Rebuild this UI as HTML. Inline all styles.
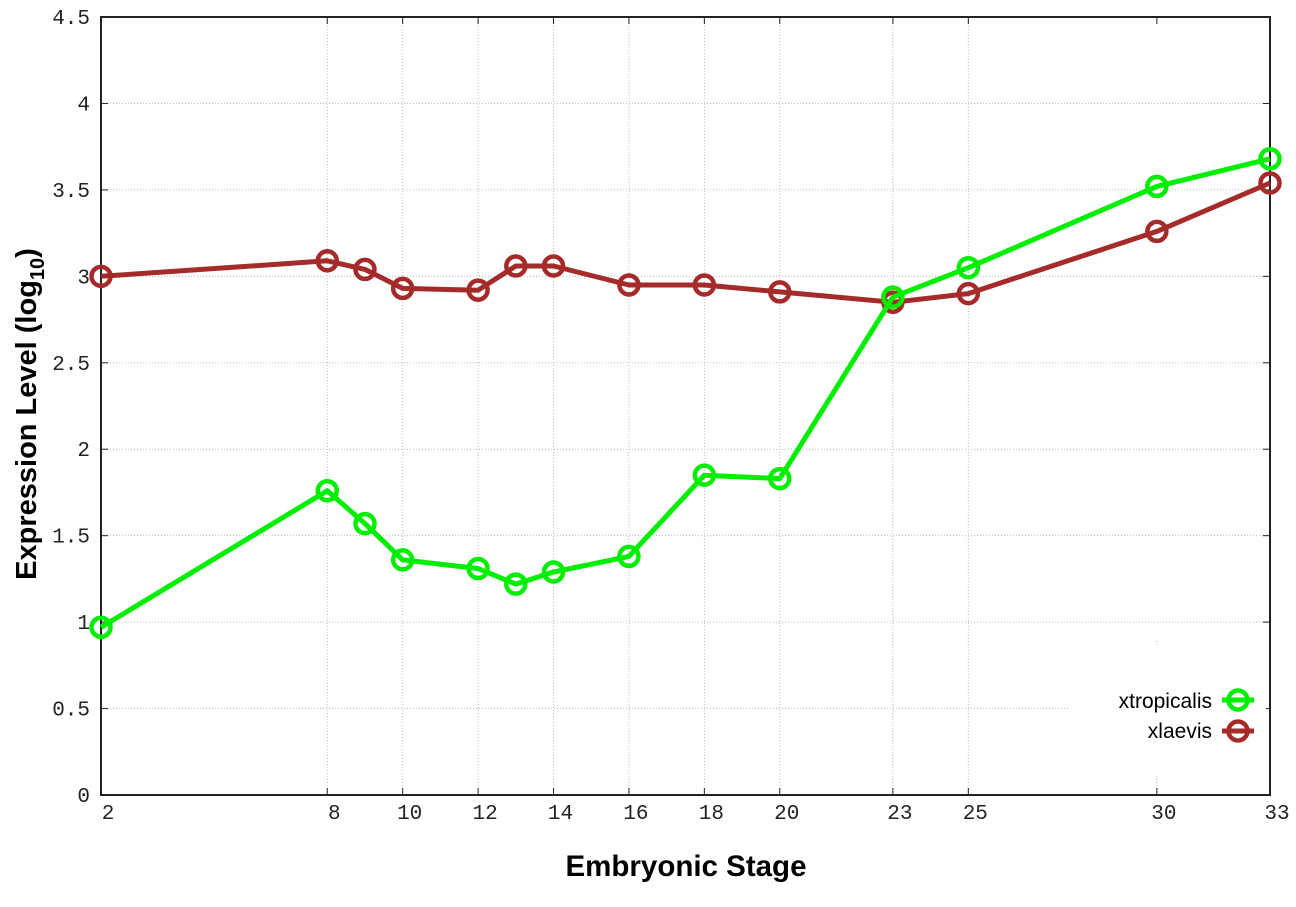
<!DOCTYPE html>
<html><head><meta charset="utf-8"><style>
html,body{margin:0;padding:0;background:#fff;}
svg{display:block;}
</style></head><body>
<svg id="s" width="1296" height="907" xmlns="http://www.w3.org/2000/svg"></svg>
<script>
const L=101,R=1270,T=17,B=795;
const X=s=>L+(s-2)*(R-L)/31, Y=v=>B-v*(B-T)/4.5;
let h='';
const xt=[2,8,10,12,14,16,18,20,23,25,30,33];
for(let i=1;i<9;i++){const y=Y(i*0.5);const x2=(i==1)?1070:R;h+=`<line x1="${L}" y1="${y}" x2="${x2}" y2="${y}" stroke="#bbb" stroke-width="1" stroke-dasharray="1,2"/>`;}
xt.forEach(s=>{if(s==2||s==33)return;const x=X(s);const y2=(s==30)?640:T;h+=`<line x1="${x}" y1="${B}" x2="${x}" y2="${y2}" stroke="#bbb" stroke-width="1" stroke-dasharray="1,2"/>`;});
for(let i=0;i<=9;i++){const y=Y(i*0.5);h+=`<line x1="${L}" y1="${y}" x2="${L+7}" y2="${y}" stroke="#222"/><line x1="${R}" y1="${y}" x2="${R-7}" y2="${y}" stroke="#222"/>`;
h+=`<text x="90" y="${y+7}" text-anchor="end" font-family="Liberation Mono,monospace" font-size="21" fill="#222">${i==0?'0':(i%2==0?(i/2):(i*0.5).toString())}</text>`;}
xt.forEach(s=>{const x=X(s);h+=`<line x1="${x}" y1="${B}" x2="${x}" y2="${B-7}" stroke="#222"/><line x1="${x}" y1="${T}" x2="${x}" y2="${T+7}" stroke="#222"/>`;
h+=`<text x="${x+7}" y="${B+24}" text-anchor="middle" font-family="Liberation Mono,monospace" font-size="21" fill="#222">${s}</text>`;});
h+=`<rect x="${L}" y="${T}" width="${R-L}" height="${B-T}" fill="none" stroke="#222" stroke-width="2"/>`;
const st=[2,8,9,10,12,13,14,16,18,20,23,25,30,33];
const g=[0.97,1.76,1.57,1.36,1.31,1.22,1.29,1.38,1.85,1.83,2.88,3.05,3.52,3.68];
const r=[3.0,3.09,3.04,2.93,2.92,3.06,3.06,2.95,2.95,2.91,2.85,2.90,3.26,3.54];
function ser(d,c){let p=st.map((s,i)=>X(s).toFixed(1)+','+Y(d[i]).toFixed(1)).join(' ');
let o=`<polyline points="${p}" fill="none" stroke="${c}" stroke-width="5" stroke-linejoin="round"/>`;
st.forEach((s,i)=>{o+=`<circle cx="${X(s)}" cy="${Y(d[i])}" r="9.5" fill="none" stroke="${c}" stroke-width="4.5"/>`;});return o;}
h+=`<rect x="1070" y="645" width="196" height="130" fill="#fff"/>`;
h+=ser(r,'#a52a2a')+ser(g,'#00ee00');
h+=`<text x="1212" y="708" text-anchor="end" font-family="Liberation Sans,sans-serif" font-size="21" fill="#000">xtropicalis</text>`;
h+=`<line x1="1222" y1="700" x2="1254" y2="700" stroke="#00ee00" stroke-width="5"/><circle cx="1238" cy="700" r="9.5" fill="none" stroke="#00ee00" stroke-width="4.5"/>`;
h+=`<text x="1212" y="738" text-anchor="end" font-family="Liberation Sans,sans-serif" font-size="21" fill="#000">xlaevis</text>`;
h+=`<line x1="1222" y1="731" x2="1254" y2="731" stroke="#a52a2a" stroke-width="5"/><circle cx="1238" cy="731" r="9.5" fill="none" stroke="#a52a2a" stroke-width="4.5"/>`;
h+=`<text x="686" y="876" text-anchor="middle" font-family="Liberation Sans,sans-serif" font-weight="bold" font-size="29.5" fill="#000">Embryonic Stage</text>`;
h+=`<text transform="translate(36,414) rotate(-90)" text-anchor="middle" font-family="Liberation Sans,sans-serif" font-weight="bold" font-size="29" fill="#000">Expression Level (log<tspan font-size="20" dy="8">10</tspan><tspan dy="-8">)</tspan></text>`;
document.getElementById('s').innerHTML=h;
</script>
</body></html>
